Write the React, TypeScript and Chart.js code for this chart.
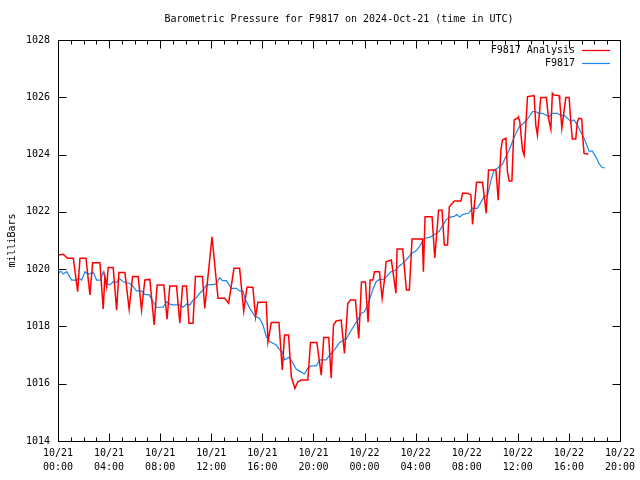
import React, { useEffect, useRef } from "react";
import { Chart, registerables } from "chart.js";

Chart.register(...registerables);

const TITLE = "Barometric Pressure for F9817 on 2024-Oct-21 (time in UTC)";
const Y_LABEL = "milliBars";
const SERIES_NAMES = ["F9817 Analysis", "F9817"];
const SERIES_COLORS = ["#ff0000", "#1a88f0"];

// x axis: hours since 10/21 00:00 UTC, ticks every 4 hours
const X_TICK_DATES = ["10/21", "10/21", "10/21", "10/21", "10/21", "10/21", "10/22", "10/22", "10/22", "10/22", "10/22", "10/22"];
const X_TICK_TIMES = ["00:00", "04:00", "08:00", "12:00", "16:00", "20:00", "00:00", "04:00", "08:00", "12:00", "16:00", "20:00"];
const Y_TICKS = [1014, 1016, 1018, 1020, 1022, 1024, 1026, 1028];

// F9817 Analysis (red) : time (hours) / pressure (mb)
const analysisHours = [
  0.02, 0.41, 0.73, 1.20, 1.54, 1.72, 2.19, 2.50, 2.71, 3.28,
  3.54, 3.67, 3.81, 3.93, 4.32, 4.59, 4.77, 5.24, 5.57, 5.84,
  6.28, 6.54, 6.80, 7.19, 7.53, 7.76, 8.28, 8.54, 8.75, 9.28,
  9.54, 9.75, 10.06, 10.26, 10.57, 10.76, 11.31, 11.49, 12.06, 12.53,
  13.05, 13.36, 13.78, 14.22, 14.54, 14.80, 15.26, 15.47, 15.65, 16.31,
  16.44, 16.70, 17.30, 17.56, 17.74, 18.05, 18.27, 18.55, 18.78, 19.05,
  19.56, 19.77, 20.27, 20.61, 20.81, 21.20, 21.39, 21.57, 21.78, 22.17,
  22.43, 22.69, 22.90, 23.29, 23.55, 23.76, 24.07, 24.28, 24.44, 24.66,
  24.78, 25.17, 25.38, 25.56, 25.69, 26.10, 26.46, 26.55, 26.99, 27.28,
  27.51, 27.72, 28.53, 28.61, 28.74, 29.29, 29.50, 29.80, 30.07, 30.25,
  30.50, 30.64, 31.03, 31.55, 31.68, 32.07, 32.33, 32.46, 32.77, 33.24,
  33.53, 33.71, 34.29, 34.47, 34.68, 34.80, 35.07, 35.19, 35.33, 35.54,
  35.72, 35.98, 36.05, 36.16, 36.37, 36.50, 36.76, 37.28, 37.41, 37.54,
  37.80, 38.24, 38.40, 38.59, 38.71, 38.84, 39.23, 39.29, 39.45, 39.76,
  40.02, 40.15, 40.27, 40.54, 40.66, 40.80, 41.01, 41.09, 41.19, 41.52,
];
const analysisValues = [
  1020.49, 1020.52, 1020.38, 1020.38, 1019.21, 1020.38, 1020.38, 1019.10, 1020.22, 1020.22,
  1018.61, 1019.74, 1019.39, 1020.06, 1020.06, 1018.57, 1019.88, 1019.88, 1018.60, 1019.74,
  1019.74, 1018.57, 1019.62, 1019.64, 1018.05, 1019.45, 1019.45, 1018.25, 1019.41, 1019.41,
  1018.11, 1019.41, 1019.41, 1018.11, 1018.11, 1019.74, 1019.74, 1018.63, 1021.13, 1018.98,
  1018.98, 1018.81, 1020.03, 1020.03, 1018.54, 1019.37, 1019.37, 1018.33, 1018.84, 1018.84,
  1017.47, 1018.14, 1018.14, 1016.48, 1017.70, 1017.70, 1016.24, 1015.84, 1016.07, 1016.13,
  1016.13, 1017.44, 1017.44, 1016.30, 1017.61, 1017.61, 1016.19, 1018.05, 1018.19, 1018.22,
  1017.06, 1018.81, 1018.92, 1018.92, 1017.58, 1019.55, 1019.55, 1018.15, 1019.62, 1019.62,
  1019.91, 1019.91, 1018.98, 1019.62, 1020.26, 1020.32, 1019.16, 1020.70, 1020.70, 1019.27,
  1019.27, 1021.05, 1021.05, 1019.91, 1021.83, 1021.83, 1020.39, 1022.06, 1022.06, 1020.84,
  1020.84, 1022.18, 1022.38, 1022.38, 1022.65, 1022.65, 1022.59, 1021.56, 1023.03, 1023.03,
  1021.95, 1023.46, 1023.46, 1022.41, 1024.16, 1024.51, 1024.57, 1023.40, 1023.08, 1023.08,
  1025.21, 1025.27, 1025.32, 1025.14, 1024.16, 1023.98, 1026.02, 1026.06, 1025.03, 1024.68,
  1025.99, 1025.99, 1025.28, 1024.89, 1026.14, 1026.08, 1026.06, 1025.85, 1024.92, 1025.99,
  1025.99, 1025.15, 1024.54, 1024.54, 1025.15, 1025.27, 1025.24, 1024.58, 1024.04, 1024.01,
];

// F9817 observed (blue)
const stationHours = [
  0.02, 0.23, 0.41, 0.68, 1.07, 1.46, 1.64, 1.85, 2.11, 2.37,
  2.76, 3.02, 3.34, 3.54, 3.81, 4.06, 4.32, 4.59, 4.79, 5.10,
  5.63, 5.89, 6.15, 6.54, 6.80, 7.14, 7.45, 7.71, 8.23, 8.50,
  8.75, 9.01, 9.54, 9.79, 10.06, 10.32, 10.57, 10.84, 11.10, 11.36,
  11.62, 12.27, 12.40, 12.66, 12.87, 13.18, 13.58, 13.97, 14.22, 14.48,
  14.65, 15.01, 15.40, 15.79, 16.05, 16.31, 16.57, 17.09, 17.35, 17.56,
  17.74, 18.08, 18.34, 18.66, 18.91, 19.30, 19.56, 19.83, 20.22, 20.48,
  21.00, 21.26, 21.65, 22.04, 22.43, 22.56, 22.82, 23.21, 23.47, 23.74,
  23.99, 24.25, 24.64, 24.91, 25.17, 25.56, 25.81, 26.08, 26.47, 26.73,
  26.99, 27.38, 27.64, 28.03, 28.29, 28.68, 29.15, 29.60, 29.86, 30.11,
  30.38, 30.64, 31.03, 31.21, 31.46, 31.68, 31.94, 32.15, 32.43, 32.83,
  33.11, 33.37, 33.63, 33.76, 33.90, 34.15, 34.41, 34.54, 34.80, 35.07,
  35.33, 35.58, 35.85, 36.11, 36.37, 36.63, 36.89, 37.15, 37.41, 37.62,
  37.93, 38.19, 38.45, 38.66, 39.10, 39.37, 39.62, 39.88, 40.15, 40.41,
  40.66, 40.93, 41.19, 41.45, 41.58, 41.84, 42.10, 42.36, 42.62, 42.83,
];
const stationValues = [
  1019.85, 1019.93, 1019.83, 1019.91, 1019.62, 1019.62, 1019.68, 1019.62, 1019.91, 1019.82,
  1019.89, 1019.62, 1019.62, 1019.91, 1019.50, 1019.45, 1019.56, 1019.53, 1019.68, 1019.56,
  1019.50, 1019.39, 1019.24, 1019.24, 1019.12, 1019.10, 1018.86, 1018.67, 1018.67, 1018.86,
  1018.78, 1018.75, 1018.75, 1018.67, 1018.78, 1018.75, 1018.92, 1019.00, 1019.16, 1019.27,
  1019.45, 1019.47, 1019.50, 1019.70, 1019.60, 1019.60, 1019.33, 1019.33, 1019.24, 1019.24,
  1018.96, 1018.64, 1018.36, 1018.28, 1018.05, 1017.64, 1017.47, 1017.35, 1017.18, 1017.12,
  1016.83, 1016.92, 1016.77, 1016.50, 1016.44, 1016.34, 1016.54, 1016.62, 1016.62, 1016.83,
  1016.83, 1017.00, 1017.18, 1017.43, 1017.55, 1017.55, 1017.76, 1018.05, 1018.22, 1018.46,
  1018.51, 1018.75, 1019.27, 1019.56, 1019.64, 1019.65, 1019.79, 1019.91, 1019.97, 1020.11,
  1020.20, 1020.38, 1020.53, 1020.64, 1020.78, 1021.07, 1021.12, 1021.24, 1021.33, 1021.52,
  1021.72, 1021.81, 1021.84, 1021.91, 1021.82, 1021.91, 1021.94, 1021.95, 1022.12, 1022.12,
  1022.33, 1022.54, 1022.57, 1022.83, 1023.11, 1023.46, 1023.52, 1023.58, 1023.66, 1023.93,
  1024.16, 1024.45, 1024.74, 1024.97, 1025.06, 1025.17, 1025.32, 1025.50, 1025.50, 1025.44,
  1025.44, 1025.38, 1025.32, 1025.44, 1025.44, 1025.36, 1025.38, 1025.27, 1025.15, 1025.21,
  1025.03, 1024.80, 1024.57, 1024.27, 1024.12, 1024.12, 1023.93, 1023.69, 1023.54, 1023.54,
];

const FONT = '"DejaVu Sans Mono", "Liberation Mono", monospace';

function toPoints(xs: number[], ys: number[]) {
  const n = Math.min(xs.length, ys.length);
  const out: { x: number; y: number }[] = [];
  for (let i = 0; i < n; i++) out.push({ x: xs[i], y: ys[i] });
  return out;
}

const decorations = {
  id: "gnuplotDecor",
  afterDraw(chart: any) {
    const { ctx, chartArea: a, scales } = chart;
    const xs = scales.x;
    const ys = scales.y;
    const L = Math.round(a.left) + 0.5;
    const R = Math.round(a.right) + 0.5;
    const T = Math.round(a.top) + 0.5;
    const B = Math.round(a.bottom) + 0.5;
    ctx.save();
    ctx.strokeStyle = "#000";
    ctx.lineWidth = 1;
    ctx.beginPath();
    // y ticks on both sides (inward)
    Y_TICKS.forEach((v) => {
      const py = Math.round(ys.getPixelForValue(v)) + 0.5;
      ctx.moveTo(L, py);
      ctx.lineTo(L + 8, py);
      ctx.moveTo(R, py);
      ctx.lineTo(R - 8, py);
    });
    // x ticks: major every 4 h, minor every hour
    for (let h = 0; h <= 44; h++) {
      const px = Math.round(xs.getPixelForValue(h)) + 0.5;
      const len = h % 4 === 0 ? 8 : 4;
      ctx.moveTo(px, B);
      ctx.lineTo(px, B - len);
      ctx.moveTo(px, T);
      ctx.lineTo(px, T + len);
    }
    ctx.stroke();
    ctx.strokeRect(L, T, R - L, B - T);

    ctx.fillStyle = "#000";
    ctx.font = "10px " + FONT;
    ctx.textBaseline = "middle";
    // title
    ctx.textAlign = "center";
    ctx.fillText(TITLE, (a.left + a.right) / 2, 19);
    // legend (inside top right)
    ctx.textAlign = "right";
    SERIES_NAMES.forEach((name, i) => {
      const yy = 50 + i * 13;
      ctx.fillText(name, 575, yy);
      ctx.strokeStyle = SERIES_COLORS[i];
      ctx.lineWidth = i === 0 ? 1.3 : 1.2;
      ctx.beginPath();
      ctx.moveTo(582, Math.round(yy) + 0.5);
      ctx.lineTo(610, Math.round(yy) + 0.5);
      ctx.stroke();
    });
    // y axis label
    ctx.translate(12, (a.top + a.bottom) / 2);
    ctx.rotate(-Math.PI / 2);
    ctx.textAlign = "center";
    ctx.fillText(Y_LABEL, 0, 0);
    ctx.restore();
  },
};

export default function App() {
  const ref = useRef<HTMLCanvasElement | null>(null);
  useEffect(() => {
    if (!ref.current) return;
    const chart = new Chart(ref.current, {
      type: "line",
      data: {
        datasets: [
          {
            label: SERIES_NAMES[0],
            data: toPoints(analysisHours, analysisValues),
            borderColor: SERIES_COLORS[0],
            borderWidth: 1.5,
            pointRadius: 0,
            tension: 0,
            fill: false,
          },
          {
            label: SERIES_NAMES[1],
            data: toPoints(stationHours, stationValues),
            borderColor: SERIES_COLORS[1],
            borderWidth: 1.2,
            pointRadius: 0,
            tension: 0,
            fill: false,
          },
        ],
      },
      options: {
        animation: false,
        responsive: false,
        devicePixelRatio: 1,
        layout: { padding: { top: 40, right: 19, left: 0, bottom: 0 } },
        plugins: {
          legend: { display: false },
          title: { display: false },
          tooltip: { enabled: false },
        },
        scales: {
          x: {
            type: "linear",
            min: 0,
            max: 44,
            grid: { display: false, drawTicks: false },
            border: { display: false },
            afterFit: (s: any) => {
              s.height = 39;
            },
            ticks: {
              stepSize: 4,
              autoSkip: false,
              maxRotation: 0,
              padding: 5,
              color: "#000",
              font: { family: FONT, size: 10, lineHeight: 1.45 },
              callback: (v: any) => {
                const i = Math.round(Number(v) / 4);
                return [X_TICK_DATES[i], X_TICK_TIMES[i]];
              },
            },
          },
          y: {
            type: "linear",
            min: 1014,
            max: 1028,
            grid: { display: false, drawTicks: false },
            border: { display: false },
            afterFit: (s: any) => {
              s.width = 58;
            },
            ticks: {
              stepSize: 2,
              padding: 8,
              color: "#000",
              font: { family: FONT, size: 10 },
              callback: (v: any) => String(v),
            },
          },
        },
      },
      plugins: [decorations],
    });
    return () => chart.destroy();
  }, []);
  return (
    <div style={{ position: "absolute", left: 0, top: 0, width: 640, height: 480, background: "#fff" }}>
      <canvas ref={ref} width={640} height={480} style={{ display: "block" }} />
    </div>
  );
}
